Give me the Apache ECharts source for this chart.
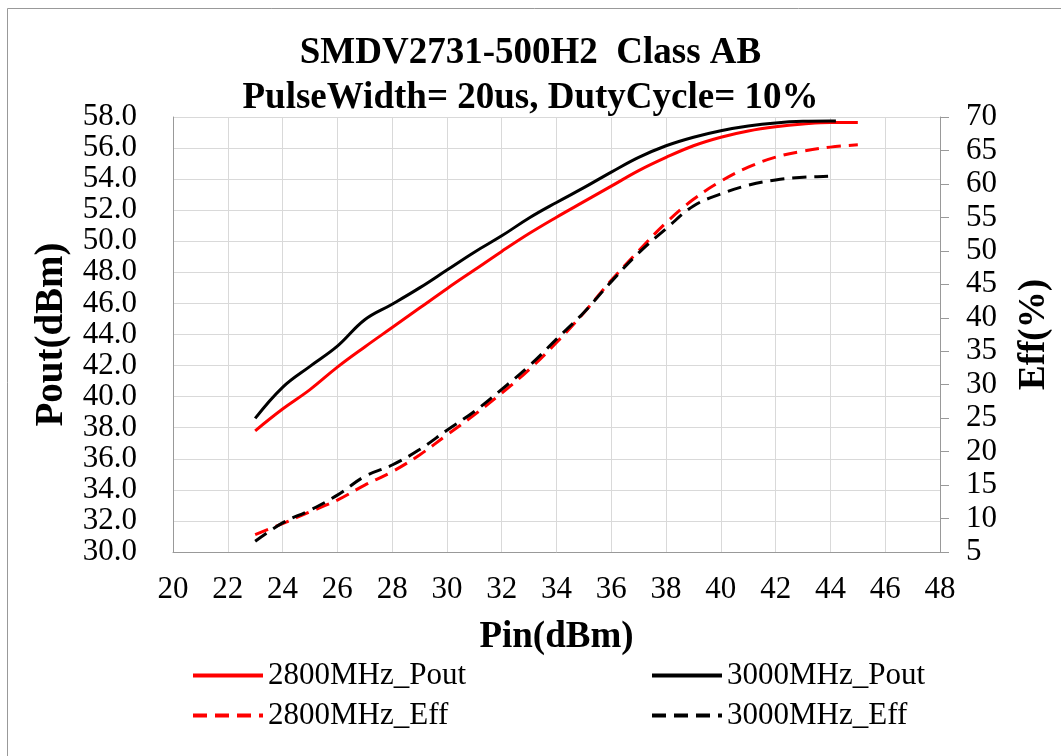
<!DOCTYPE html>
<html>
<head>
<meta charset="utf-8">
<script src="https://cdn.jsdelivr.net/npm/echarts@6/dist/echarts.min.js"></script>
<style>
  html, body { margin: 0; padding: 0; background: #fff; }
  #chart { width: 1061px; height: 756px; }
</style>
</head>
<body>
<div id="chart"></div>
<script>
// Pin (dBm) sample points
let pin2800 = [23, 24, 25, 26, 27, 28, 29, 30, 31, 32, 33, 34, 35, 36, 37, 38, 39, 40, 41, 42, 43, 44, 45]
let pin3000 = [23, 24, 25, 26, 27, 28, 29, 30, 31, 32, 33, 34, 35, 36, 37, 38, 39, 40, 41, 42, 43, 44, 44.2]

// Pout (dBm)
let pout2800 = [37.8, 39.2, 40.45, 41.9, 43.2, 44.45, 45.7, 46.95, 48.15, 49.35, 50.5, 51.55, 52.55, 53.55, 54.55, 55.4, 56.15, 56.7, 57.1, 57.37, 57.55, 57.65, 57.65]
let pout3000 = [38.6, 40.6, 41.95, 43.25, 44.95, 45.95, 47.0, 48.15, 49.3, 50.35, 51.5, 52.5, 53.45, 54.45, 55.4, 56.15, 56.7, 57.12, 57.42, 57.62, 57.72, 57.74, 57.74]

// Eff (%)
let eff2800 = [7.6, 9.25, 11.0, 12.75, 15.0, 17.0, 19.5, 22.5, 25.5, 28.75, 32.25, 36.3, 40.75, 45.6, 50.0, 54.2, 57.7, 60.4, 62.5, 64.0, 64.9, 65.5, 65.85]
let eff3000 = [6.6, 9.35, 11.25, 13.5, 16.3, 18.0, 20.3, 23.2, 26.0, 29.3, 32.8, 36.8, 40.8, 45.4, 49.7, 53.3, 56.7, 58.5, 59.8, 60.6, 61.0, 61.15, 61.3]

let font = 'Liberation Serif'

function pairs(xs, ys) {
    return xs.map((x, i) => [x, ys[i]])
}

function line(name, xs, ys, color, dashed, axis) {
    return {
        name: name,
        type: 'line',
        yAxisIndex: axis,
        data: pairs(xs, ys),
        smooth: 0.4,
        symbol: 'none',
        lineStyle: { color: color, width: 3, type: dashed ? [14, 8] : 'solid' },
        itemStyle: { color: color }
    }
}

let legendText = { fontFamily: font, fontSize: 31, color: '#000' }
let nameText = { fontFamily: font, fontSize: 37, fontWeight: 'bold', color: '#000' }
let tickText = { fontFamily: font, fontSize: 31, color: '#000' }

function legendCol(left, names) {
    return {
        orient: 'vertical',
        left: left,
        top: 655,
        itemWidth: 70,
        itemHeight: 14,
        itemGap: 9,
        textStyle: legendText,
        itemStyle: { opacity: 0 },
        lineStyle: { width: 4 },
        data: names
    }
}

let option = {
    animation: false,
    backgroundColor: '#fff',
    graphic: [{
        type: 'rect',
        shape: { x: 7.5, y: 8.5, width: 1100, height: 800 },
        style: { fill: 'none', stroke: '#999', lineWidth: 1 }
    }],
    title: {
        text: 'SMDV2731-500H2  Class AB\nPulseWidth= 20us, DutyCycle= 10%',
        left: 'center',
        top: 26,
        textStyle: Object.assign({ lineHeight: 45 }, nameText)
    },
    legend: [
        legendCol(186, ['2800MHz_Pout', '2800MHz_Eff']),
        legendCol(645, ['3000MHz_Pout', '3000MHz_Eff'])
    ],
    grid: { left: 173, right: 121, top: 117, bottom: 204 },
    xAxis: {
        type: 'value',
        min: 20,
        max: 48,
        interval: 2,
        name: 'Pin(dBm)',
        nameLocation: 'middle',
        nameGap: 67,
        nameTextStyle: nameText,
        axisLine: { lineStyle: { color: '#999' } },
        axisTick: { show: false },
        axisLabel: Object.assign({ margin: 22 }, tickText),
        splitLine: { lineStyle: { color: '#d9d9d9', width: 1 } }
    },
    yAxis: [{
        type: 'value',
        min: 30,
        max: 58,
        interval: 2,
        name: 'Pout(dBm)',
        nameLocation: 'middle',
        nameRotate: 90,
        nameGap: 97,
        nameTextStyle: Object.assign({}, nameText, { fontSize: 39 }),
        axisLine: { show: true, lineStyle: { color: '#999' } },
        axisTick: { show: false },
        axisLabel: Object.assign({ margin: 36, formatter: v => v.toFixed(1) }, tickText),
        splitLine: { lineStyle: { color: '#d9d9d9', width: 1 } }
    }, {
        type: 'value',
        min: 5,
        max: 70,
        interval: 5,
        position: 'right',
        name: 'Eff(%)',
        nameLocation: 'middle',
        nameRotate: 90,
        nameGap: 76,
        nameTextStyle: nameText,
        axisLine: { show: true, lineStyle: { color: '#999' } },
        axisTick: { show: true, length: 9, lineStyle: { color: '#999' } },
        axisLabel: Object.assign({ margin: 26 }, tickText),
        splitLine: { show: false }
    }],
    series: [
        line('2800MHz_Pout', pin2800, pout2800, '#ff0000', false, 0),
        line('3000MHz_Pout', pin3000, pout3000, '#000000', false, 0),
        line('2800MHz_Eff', pin2800, eff2800, '#ff0000', true, 1),
        line('3000MHz_Eff', pin3000, eff3000, '#000000', true, 1)
    ]
}

let myChart = echarts.init(document.getElementById('chart'))
myChart.setOption(option)
</script>
</body>
</html>
